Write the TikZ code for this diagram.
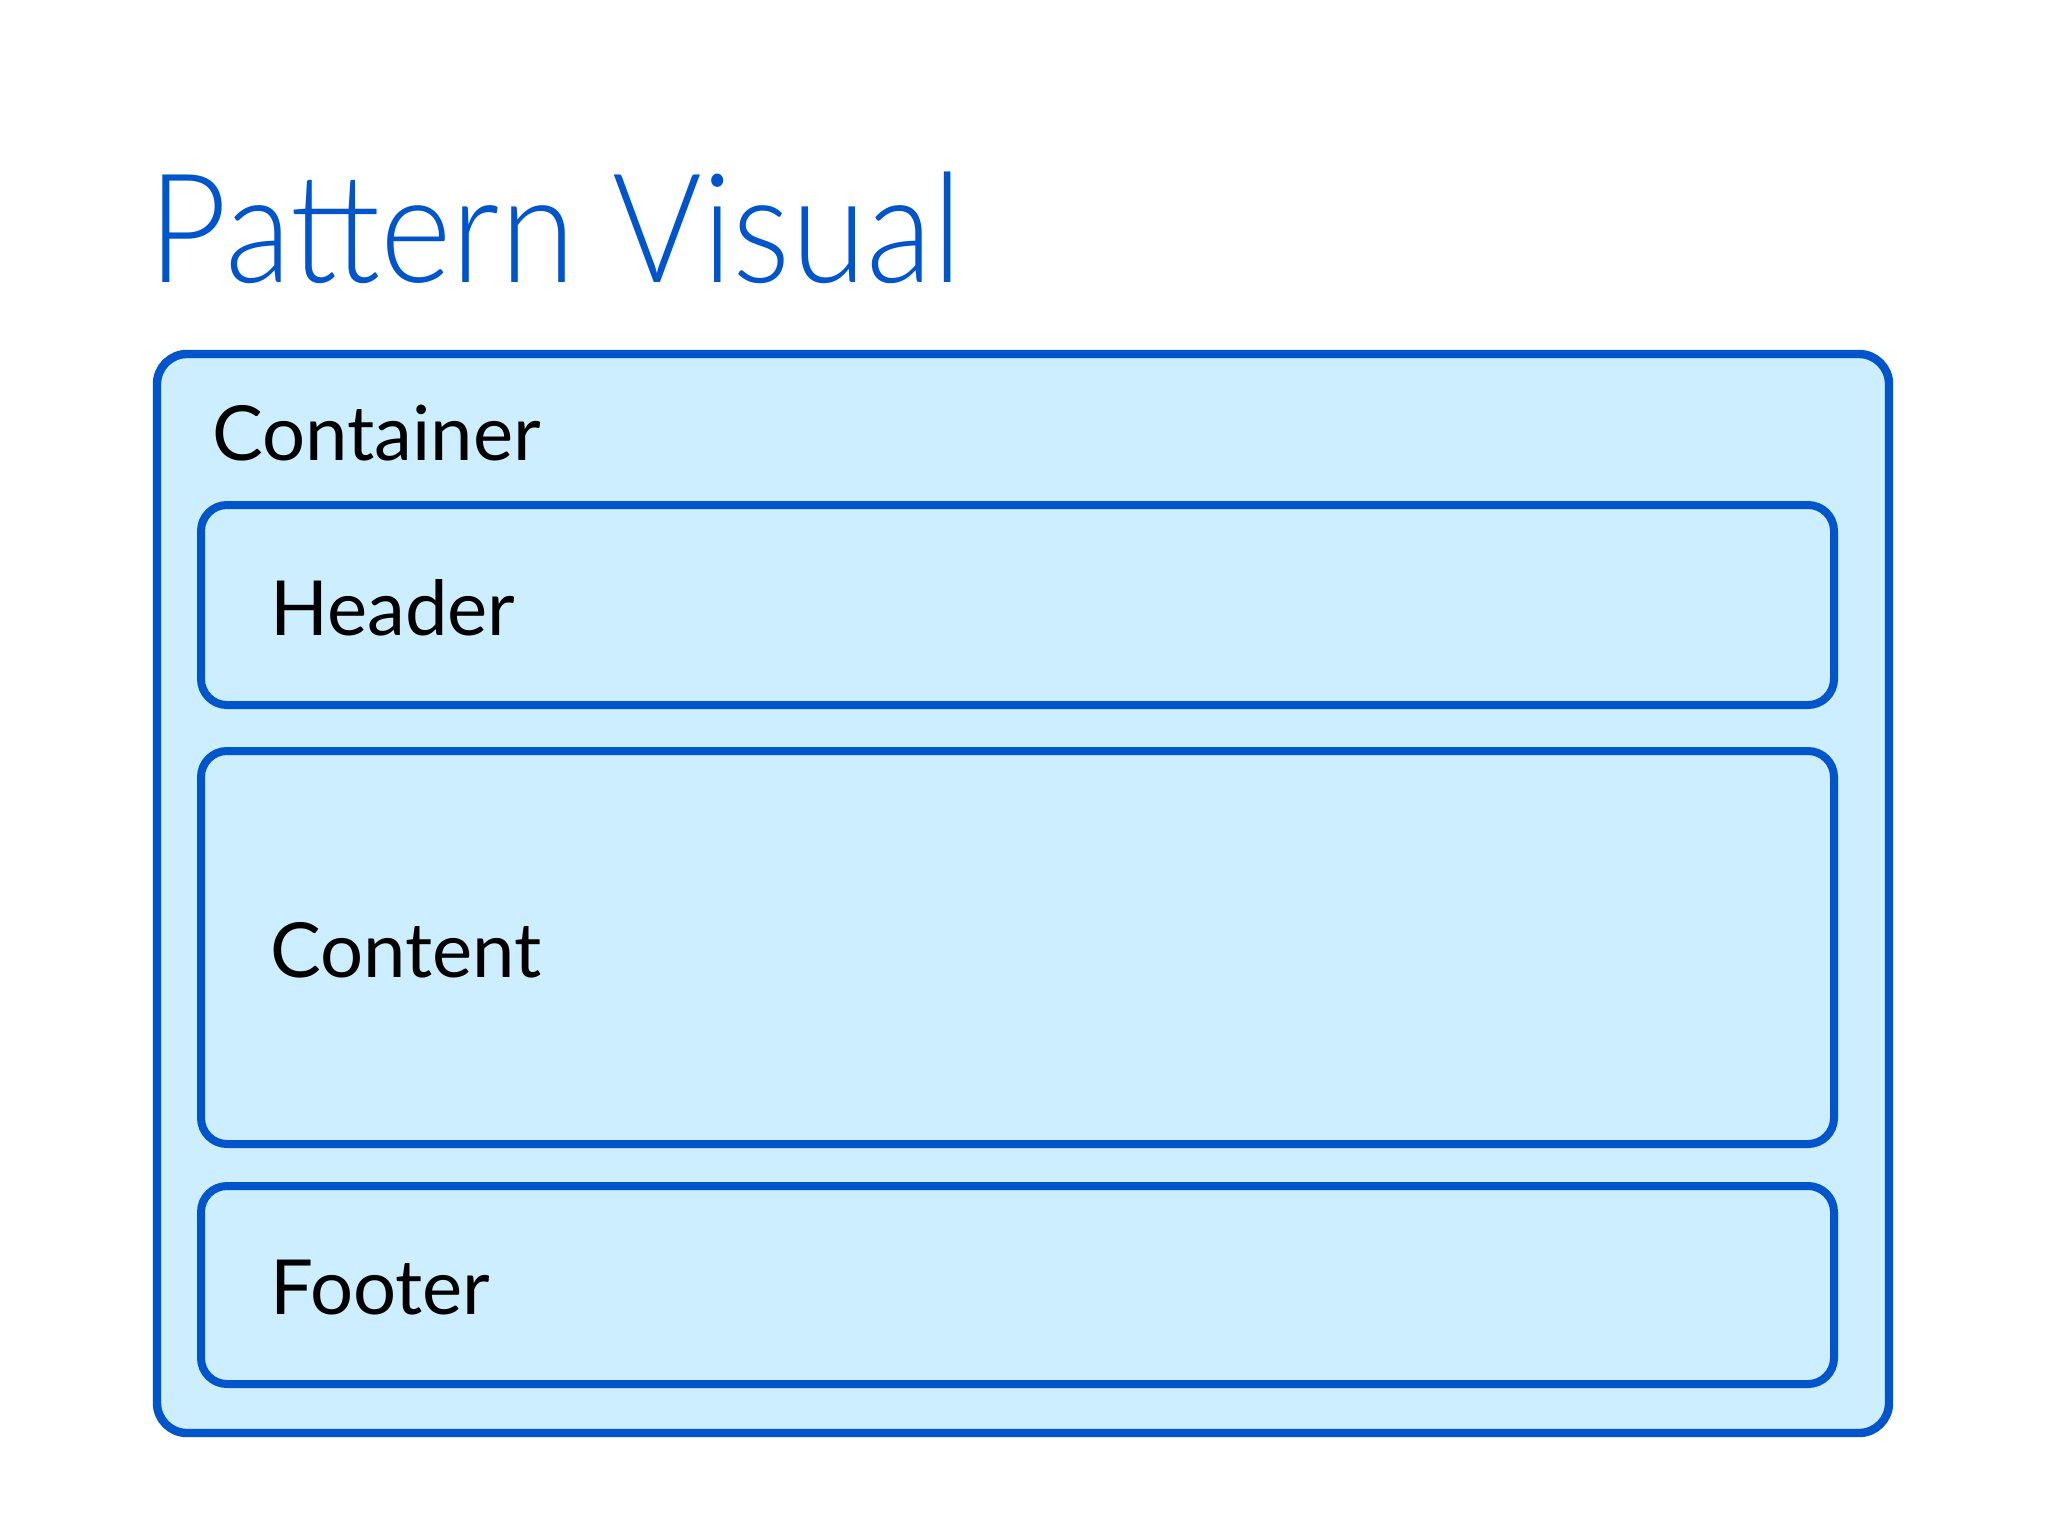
\documentclass[tikz,border=0pt]{standalone}
\usepackage{fontspec}
\setmainfont{Lato}
\newfontfamily\titlefont[UprightFont=* Light]{Lato}
\definecolor{edgeblue}{RGB}{0,85,204}
\definecolor{fillblue}{RGB}{204,238,255}
\tikzset{
  outerbox/.style={draw=edgeblue, fill=fillblue, line width=4.2pt, rounded corners=15pt, inner sep=0pt, outer sep=0pt, rectangle},
  innerbox/.style={draw=edgeblue, fill=fillblue, line width=4pt, rounded corners=13pt, inner sep=0pt, outer sep=0pt, rectangle},
  lbl/.style={anchor=base west, inner sep=0pt, font=\fontsize{38}{44}\selectfont, text=black},
}
\begin{document}
\begin{tikzpicture}[x=1pt,y=1pt]
\useasboundingbox[fill=white] (0,0) rectangle (1024,-768);
\node[anchor=base west, inner sep=0pt, text=edgeblue, font=\titlefont\fontsize{76}{80}\selectfont] (title) at (74,-141) {\scalebox{0.9}[1]{Pattern Visual}};
\node[outerbox, minimum width=866pt, minimum height=539.5pt] (container) at (511.5,-446.75) {};
\node[lbl] (containerlbl) at (106,-230) {Container};
\node[innerbox, minimum width=816.5pt, minimum height=100pt] (header) at (508.75,-302.5) {};
\node[innerbox, minimum width=816.5pt, minimum height=196.5pt] (content) at (508.75,-473.75) {};
\node[innerbox, minimum width=816.5pt, minimum height=99pt] (footer) at (508.75,-642.5) {};
\node[lbl] (headerlbl) at (135,-317.5) {Header};
\node[lbl] (contentlbl) at (135,-488.5) {Content};
\node[lbl] (footerlbl) at (135,-657) {Footer};
\end{tikzpicture}
\end{document}
